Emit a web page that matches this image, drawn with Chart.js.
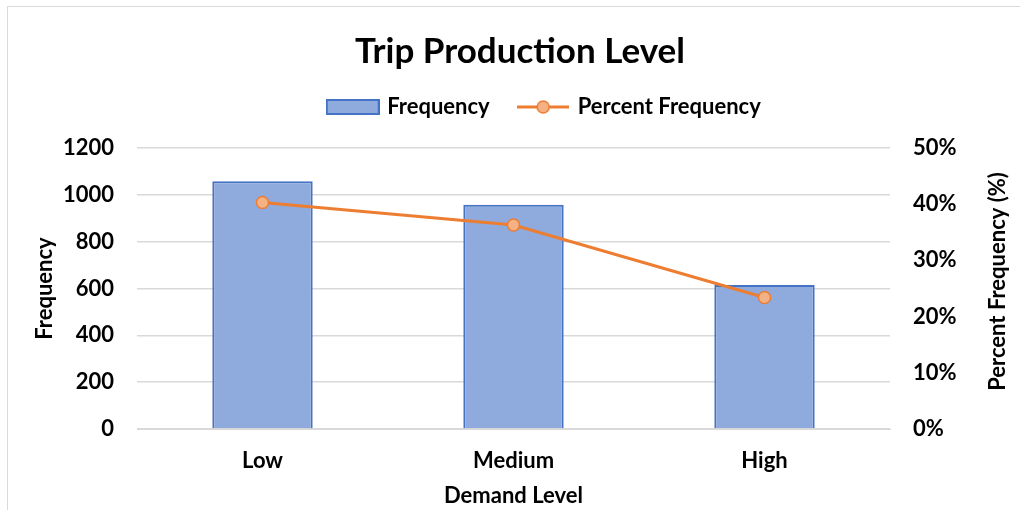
<!DOCTYPE html>
<html>
<head>
<meta charset="utf-8">
<script src="https://cdn.jsdelivr.net/npm/chart.js@4.4.1/dist/chart.umd.min.js"></script>
<style>
  html, body { margin: 0; padding: 0; background: #ffffff; }
  #wrap { width: 1020px; height: 510px; position: relative; }
</style>
</head>
<body>
<div id="wrap"><canvas id="c" width="1020" height="510"></canvas></div>
<script>
const categories = ['Low', 'Medium', 'High'];
const frequency = [1058, 958, 615];
const percentFrequency = [40.3, 36.3, 23.4];
const freqTicks = [0, 200, 400, 600, 800, 1000, 1200];
const pctTicks = [0, 10, 20, 30, 40, 50];

const FONT = 'Lato, "Open Sans", sans-serif';
const BAR_FILL = '#8FAADC';
const BAR_EDGE = '#4472C4';
const LINE = '#ED7D31';
const MARK = '#F4B183';

function makeBarSwatch() {
  const c = document.createElement('canvas');
  c.width = 54; c.height = 16;
  const g = c.getContext('2d');
  g.fillStyle = BAR_FILL; g.fillRect(1, 1, 52, 14);
  g.strokeStyle = BAR_EDGE; g.lineWidth = 2; g.strokeRect(1, 1, 52, 14);
  return c;
}
function makeLineSwatch() {
  const c = document.createElement('canvas');
  c.width = 52; c.height = 16;
  const g = c.getContext('2d');
  g.strokeStyle = LINE; g.lineWidth = 3;
  g.beginPath(); g.moveTo(0, 8); g.lineTo(52, 8); g.stroke();
  g.beginPath(); g.arc(26, 8, 6, 0, Math.PI * 2);
  g.fillStyle = MARK; g.fill(); g.lineWidth = 1.5; g.stroke();
  return c;
}
const swatches = [makeBarSwatch(), makeLineSwatch()];

const frame = {
  id: 'frame',
  afterLayout(chart) {
    if (chart.legend) {
      chart.legend.top -= 20; chart.legend.bottom -= 20;
      chart.legend.left += 35; chart.legend.right += 35;
    }
    if (chart.titleBlock) {
      chart.titleBlock.left += 10; chart.titleBlock.right += 10;
      chart.titleBlock.top += 2; chart.titleBlock.bottom += 2;
    }
  },
  beforeDraw(chart) {
    const ctx = chart.ctx;
    ctx.save();
    ctx.strokeStyle = '#d9d9d9'; ctx.lineWidth = 1;
    ctx.strokeRect(7.5, 6.5, 1100, 600);
    ctx.restore();
  },
  afterDraw(chart) {
    const ctx = chart.ctx;
    const area = chart.chartArea;
    ctx.save();
    ctx.translate(998, (area.top + area.bottom) / 2 - 7);
    ctx.rotate(-Math.PI / 2);
    ctx.font = 'bold 22px ' + FONT;
    ctx.fillStyle = '#000';
    ctx.textAlign = 'center';
    ctx.textBaseline = 'middle';
    ctx.fillText('Percent Frequency (%)', 0, 0);
    ctx.restore();
  }
};

new Chart(document.getElementById('c'), {
  data: {
    labels: categories,
    datasets: [
      {
        type: 'bar',
        label: 'Frequency',
        data: frequency,
        yAxisID: 'y',
        backgroundColor: BAR_FILL,
        borderColor: BAR_EDGE,
        borderWidth: 2,
        barPercentage: 0.4,
        categoryPercentage: 1,
        order: 1
      },
      {
        type: 'line',
        label: 'Percent Frequency',
        data: percentFrequency,
        yAxisID: 'y1',
        borderColor: LINE,
        borderWidth: 3,
        pointRadius: 6,
        pointBackgroundColor: MARK,
        pointBorderColor: LINE,
        pointBorderWidth: 1.5,
        tension: 0,
        order: 0
      }
    ]
  },
  options: {
    responsive: false,
    animation: false,
    layout: { padding: { left: 0, right: 0, top: 0, bottom: 0 } },
    plugins: {
      tooltip: { enabled: false },
      title: {
        display: true,
        text: 'Trip Production Level',
        color: '#000',
        font: { family: FONT, size: 35, weight: 'bold', lineHeight: 1.2 },
        padding: { top: 29, bottom: 15 }
      },
      legend: {
        display: true,
        position: 'top',
        labels: {
          color: '#000',
          font: { family: FONT, size: 22, weight: 'bold' },
          usePointStyle: true,
          pointStyleWidth: 47,
          boxHeight: 16,
          padding: 30,
          sort: (a, b) => a.datasetIndex - b.datasetIndex,
          generateLabels(chart) {
            return chart.data.datasets.map((ds, i) => ({
              text: ds.label,
              datasetIndex: i,
              pointStyle: swatches[i],
              fillStyle: 'transparent',
              strokeStyle: 'transparent',
              lineWidth: 0,
              fontColor: '#000',
              hidden: false
            }));
          }
        }
      }
    },
    scales: {
      x: {
        grid: { display: false },
        border: { display: true, color: '#d9d9d9', width: 1 },
        ticks: { color: '#000', font: { family: FONT, size: 22, weight: 'bold' }, padding: 11 },
        title: {
          display: true, text: 'Demand Level', color: '#000',
          font: { family: FONT, size: 22, weight: 'bold' },
          padding: { top: 2, bottom: 1 }
        },
        afterFit(s) { s.height = 81; }
      },
      y: {
        position: 'left',
        min: 0, max: 1200,
        afterBuildTicks(s) { s.ticks = freqTicks.map(v => ({ value: v })); },
        grid: { color: '#d9d9d9', lineWidth: 1.5, drawTicks: false },
        border: { display: false },
        ticks: { color: '#000', font: { family: FONT, size: 22, weight: 'bold' }, padding: 23, callback: v => String(v) },
        title: {
          display: true, text: 'Frequency', color: '#000',
          font: { family: FONT, size: 22, weight: 'bold' },
          padding: { top: 32, bottom: 0 }
        },
        afterFit(s) { s.width = 137; }
      },
      y1: {
        position: 'right',
        min: 0, max: 50,
        afterBuildTicks(s) { s.ticks = pctTicks.map(v => ({ value: v })); },
        grid: { drawOnChartArea: false, drawTicks: false },
        border: { display: false },
        ticks: { color: '#000', font: { family: FONT, size: 22, weight: 'bold' }, padding: 23, callback: v => v + '%' },
        afterFit(s) { s.width = 130; }
      }
    }
  },
  plugins: [frame]
});
</script>
</body>
</html>
